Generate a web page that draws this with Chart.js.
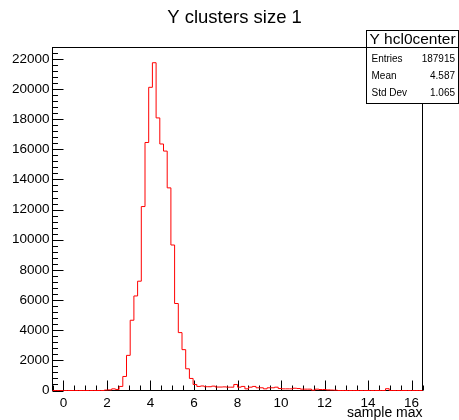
<!DOCTYPE html>
<html lang="en">
<head>
<meta charset="UTF-8">
<title>Y clusters size 1</title>
<script src="https://cdn.jsdelivr.net/npm/chart.js"></script>
<style>
  body { margin: 0; background: #fff; }
  #wrap { position: relative; width: 459px; height: 420px; }
</style>
</head>
<body>
<div id="wrap"><canvas id="hist"></canvas></div>
<script>
// binning of the histogram: 100 bins between -0.5 and 16.5
const xMin = -0.5;
const xMax = 16.5;
const nBins = 100;

// bin contents, bin 0 .. bin 99
const counts = [
  0, 0, 0, 0, 0, 0, 0, 0, 0, 0,
  0, 0, 0, 0, 0, 30, 40, 110, 70, 270,
  930, 2330, 4660, 6270, 7250, 12200, 16450, 20110, 21740, 18080,
  16350, 15880, 13440, 9650, 5770, 3840, 2710, 1440, 800, 400,
  270, 300, 250, 250, 290, 230, 230, 240, 220, 220,
  400, 220, 270, 110, 220, 270, 180, 180, 110, 180,
  180, 220, 130, 110, 110, 110, 150, 130, 90, 90,
  90, 20, 90, 65, 65, 40, 30, 20, 0, 0,
  0, 0, 0, 0, 0, 0, 0, 0, 0, 0,
  0, 120, 0, 0, 0, 0, 0, 0, 0, 0
];

const yMax = 22750;
const xTicks = [0, 2, 4, 6, 8, 10, 12, 14, 16];
const yTicks = [0, 2000, 4000, 6000, 8000, 10000, 12000, 14000, 16000, 18000, 20000, 22000];
const xMinorStep = 0.5;
const yMinorStep = 400;

const histTitle = 'Y clusters size 1';
const xTitle = 'sample max';
const statsTitle = 'Y hcl0center';
const statsNames = ['Entries', 'Mean', 'Std Dev'];
const statsValues = ['187915', '4.587', '1.065'];

const FONT = '"Liberation Sans", Arial, Helvetica, sans-serif';
Chart.defaults.font.family = FONT;
Chart.defaults.color = '#000';

// step outline: one point at each lower bin edge, plus the last upper edge
const binWidth = (xMax - xMin) / nBins;
const points = counts.map((c, i) => ({ x: xMin + i * binWidth, y: c }));
points.push({ x: xMax, y: counts[nBins - 1] });

// frame, ticks, titles and stats box in ROOT style
const rootStyle = {
  id: 'rootStyle',
  beforeDatasetsDraw(chart) {
    const { ctx, chartArea: a, scales } = chart;
    const xs = scales.x, ys = scales.y;
    ctx.save();
    ctx.strokeStyle = '#000';
    ctx.lineWidth = 1;
    ctx.strokeRect(a.left, a.top, a.right - a.left, a.bottom - a.top);

    ctx.beginPath();
    // x axis ticks, pointing up from the bottom
    for (let v = Math.ceil(xMin / xMinorStep) * xMinorStep; v <= xMax + 1e-9; v += xMinorStep) {
      const px = Math.round(xs.getPixelForValue(v)) + 0.5;
      const major = Math.abs(v / 2 - Math.round(v / 2)) < 1e-9;
      const len = major ? 10 : 5;
      ctx.moveTo(px, a.bottom);
      ctx.lineTo(px, a.bottom - len);
    }
    // y axis ticks, pointing right from the left edge
    for (let v = 0; v <= yMax; v += yMinorStep) {
      const py = Math.round(ys.getPixelForValue(v)) + 0.5;
      const major = v % 2000 === 0;
      const len = major ? 11 : 5.5;
      ctx.moveTo(a.left, py);
      ctx.lineTo(a.left + len, py);
    }
    ctx.stroke();
    ctx.restore();
  },
  afterDraw(chart) {
    const { ctx, chartArea: a } = chart;
    ctx.save();
    ctx.fillStyle = '#000';

    // histogram title
    ctx.font = '18.5px ' + FONT;
    ctx.textAlign = 'center';
    ctx.textBaseline = 'middle';
    ctx.fillText(histTitle, 234.5, 18);

    // x axis title, right aligned to the frame
    ctx.font = '14px ' + FONT;
    ctx.textAlign = 'right';
    ctx.fillText(xTitle, a.right, 413);

    // stats box
    const bx = 366.5, by = 30.5, bw = 92, bh = 73, th = 17;
    ctx.fillStyle = '#fff';
    ctx.fillRect(bx, by, bw, bh);
    ctx.strokeStyle = '#000';
    ctx.lineWidth = 1;
    ctx.strokeRect(bx, by, bw, bh);
    ctx.beginPath();
    ctx.moveTo(bx, by + th);
    ctx.lineTo(bx + bw, by + th);
    ctx.stroke();

    ctx.fillStyle = '#000';
    ctx.font = '15.5px ' + FONT;
    ctx.textAlign = 'center';
    ctx.fillText(statsTitle, bx + bw / 2, by + th / 2 + 0.5);

    ctx.font = '10px ' + FONT;
    const rowY = [59, 76, 93];
    statsNames.forEach((name, i) => {
      ctx.textAlign = 'left';
      ctx.fillText(name, 371.5, rowY[i]);
      ctx.textAlign = 'right';
      ctx.fillText(statsValues[i], 455, rowY[i]);
    });
    ctx.restore();
  }
};

new Chart(document.getElementById('hist'), {
  type: 'line',
  data: {
    datasets: [{
      data: points,
      stepped: 'after',
      borderColor: '#ff0000',
      borderWidth: 1,
      pointRadius: 0,
      fill: false,
      clip: 2
    }]
  },
  options: {
    responsive: true,
    maintainAspectRatio: false,
    animation: false,
    layout: { padding: { top: 47.5, right: 36.5, bottom: 0, left: 0 } },
    plugins: {
      legend: { display: false },
      tooltip: { enabled: false }
    },
    scales: {
      x: {
        type: 'linear',
        min: xMin,
        max: xMax,
        grid: { display: false, drawTicks: false },
        border: { display: false },
        afterBuildTicks: s => { s.ticks = xTicks.map(v => ({ value: v })); },
        afterFit: s => { s.height = 29.5; },
        ticks: { padding: 5, maxRotation: 0, font: { size: 13.5 }, callback: v => String(v) }
      },
      y: {
        type: 'linear',
        min: 0,
        max: yMax,
        grid: { display: false, drawTicks: false },
        border: { display: false },
        afterBuildTicks: s => { s.ticks = yTicks.map(v => ({ value: v })); },
        afterFit: s => { s.width = 52.5; },
        ticks: { padding: 3, font: { size: 13.5 }, callback: v => String(v) }
      }
    }
  },
  plugins: [rootStyle]
});
</script>
</body>
</html>
